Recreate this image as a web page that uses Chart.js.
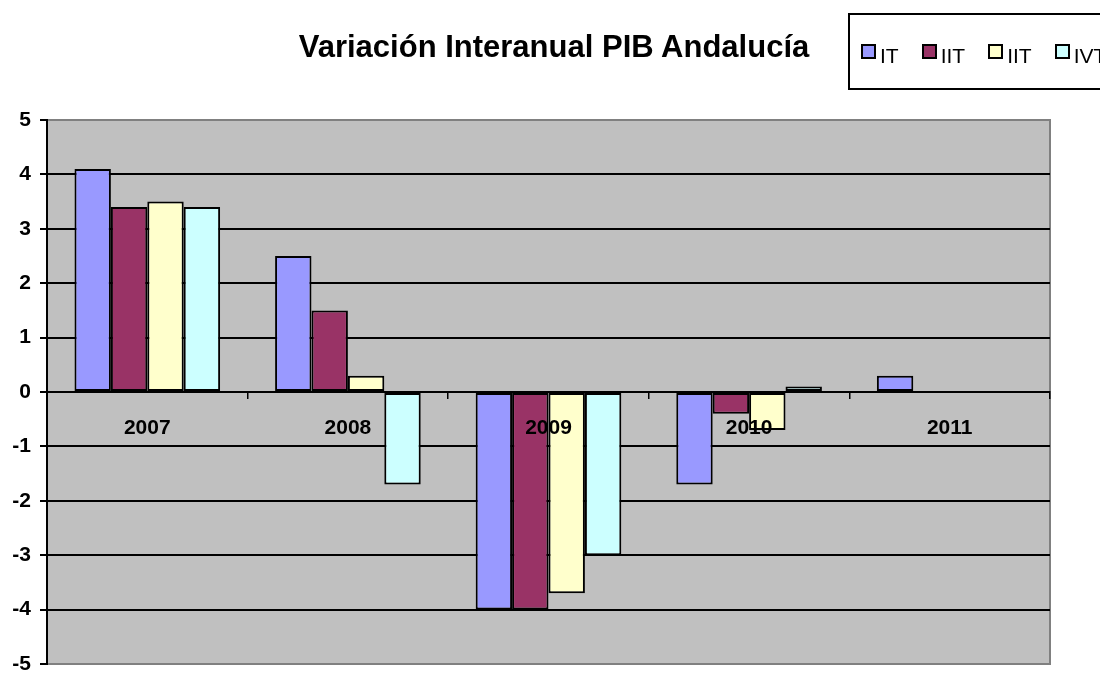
<!DOCTYPE html>
<html>
<head>
<meta charset="utf-8">
<script src="https://cdn.jsdelivr.net/npm/chart.js@4/dist/chart.umd.min.js"></script>
<style>
  html, body { margin: 0; padding: 0; background: #fff; overflow: hidden; }
  #wrap { position: relative; width: 1100px; height: 674px; font-family: "Liberation Sans", Arial, sans-serif; }
  #titulo { position: absolute; left: 0; top: 29px; width: 1108px; text-align: center;
            font-weight: bold; font-size: 31px; line-height: 36px; color: #000; }
  #leyenda { position: absolute; left: 848px; top: 13px; width: 300px; height: 73px;
             border: 2px solid #000; box-sizing: content-box; }
  #leyenda .fila { position: absolute; left: 11px; top: 29px; display: flex; align-items: flex-start; }
  #leyenda .item { display: flex; align-items: flex-start; margin-right: 23px; }
  #leyenda .marca { width: 11px; height: 11px; border: 2px solid #000; margin-top: 0px; margin-right: 4px; }
  #leyenda .txt { font-size: 21px; line-height: 24px; color: #000; }
  canvas { position: absolute; left: 0; top: 0; }
</style>
</head>
<body>
<div id="wrap">
  <canvas id="grafico" width="1100" height="674"></canvas>
  <div id="titulo">Variación Interanual PIB Andalucía</div>
  <div id="leyenda"><div class="fila" id="filaLeyenda"></div></div>
</div>
<script>
// Datos
const anios = ['2007', '2008', '2009', '2010', '2011'];
const trimestres = ['IT', 'IIT', 'IIT', 'IVT'];
const colores = ['#9999FF', '#993366', '#FFFFCC', '#CCFFFF'];
const serieIT   = [4.1, 2.5, -4.0, -1.7, 0.3];
const serieIIT  = [3.4, 1.5, -4.0, -0.4, null];
const serieIIIT = [3.5, 0.3, -3.7, -0.7, null];
const serieIVT  = [3.4, -1.7, -3.0, 0.1, null];
const ticksY = [-5, -4, -3, -2, -1, 0, 1, 2, 3, 4, 5];

const series = [serieIT, serieIIT, serieIIIT, serieIVT];

// fondo gris del área de trazado
const fondoGris = {
    id: 'fondoGris',
    beforeDraw(chart) {
        const a = chart.chartArea;
        const c = chart.ctx;
        c.save();
        c.fillStyle = '#C0C0C0';
        c.fillRect(a.left, a.top, a.right - a.left, a.bottom - a.top);
        c.strokeStyle = '#808080';
        c.lineWidth = 2;
        c.strokeRect(a.left, a.top, a.right - a.left, a.bottom - a.top);
        c.restore();
    }
};

const fuente = '"Liberation Sans", Arial, sans-serif';

new Chart(document.getElementById('grafico'), {
    type: 'bar',
    data: {
        labels: anios,
        datasets: series.map((s, i) => ({
            label: trimestres[i],
            data: s,
            backgroundColor: colores[i],
            borderColor: '#000',
            borderWidth: 2,
            borderSkipped: false,
            categoryPercentage: 0.726,
            barPercentage: 1.0
        }))
    },
    options: {
        responsive: false,
        animation: false,
        layout: { padding: { top: 120, bottom: 10, left: 0, right: 50 } },
        plugins: {
            legend: { display: false },
            title: { display: false },
            tooltip: { enabled: false }
        },
        scales: {
            x: {
                position: { y: 0 },
                grid: { offset: true, drawOnChartArea: false, drawTicks: true, tickLength: 6, color: '#000', lineWidth: 1.5, z: 1 },
                border: { display: true, color: '#000', width: 2, z: 1 },
                ticks: {
                    z: 2,
                    color: '#000',
                    padding: 18,
                    maxRotation: 0,
                    autoSkip: false,
                    font: { family: fuente, size: 21, weight: 'bold' }
                }
            },
            y: {
                min: -5,
                max: 5,
                afterBuildTicks(scale) { scale.ticks = ticksY.map(v => ({ value: v })); },
                afterFit(scale) { scale.width = 47; scale.paddingTop = 0; scale.paddingBottom = 0; },
                grid: {
                    color: (c) => (c.tick && Math.abs(c.tick.value) === 5) ? '#808080' : '#000',
                    tickColor: '#000',
                    lineWidth: 2,
                    tickLength: 7
                },
                border: { display: true, color: '#000', width: 2 },
                ticks: {
                    color: '#000',
                    padding: 9,
                    font: { family: fuente, size: 21, weight: 'bold' }
                }
            }
        }
    },
    plugins: [fondoGris]
});

// leyenda
const fila = document.getElementById('filaLeyenda');
trimestres.forEach((t, i) => {
    const item = document.createElement('div');
    item.className = 'item';
    item.innerHTML = '<div class="marca" style="background:' + colores[i] + '"></div><div class="txt">' + t + '</div>';
    fila.appendChild(item);
});
</script>
</body>
</html>
